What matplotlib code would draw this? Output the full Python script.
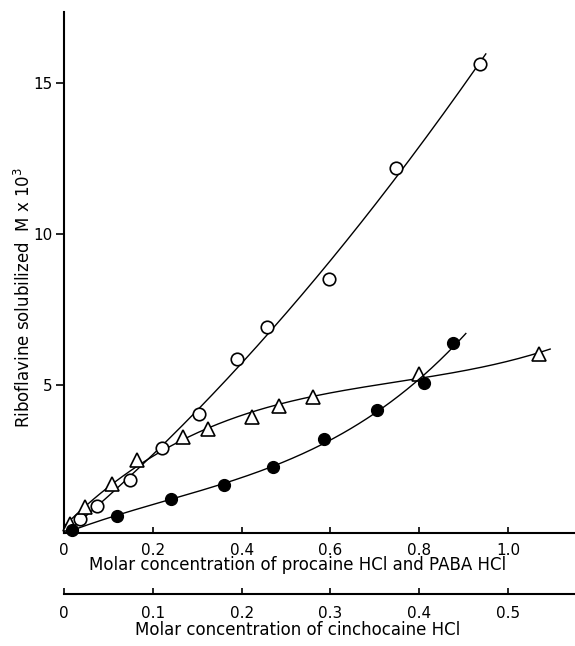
import numpy as np
import matplotlib
matplotlib.use("Agg")
import matplotlib.pyplot as plt

plt.rcParams['font.family'] = ['DejaVu Sans']

# Data
# Open circles (procaine HCl) - x in molar conc. of procaine/PABA axis
circ_x = [0.036, 0.074, 0.149, 0.221, 0.304, 0.390, 0.457, 0.596, 0.748, 0.937]
circ_y = [0.57, 1.00, 1.87, 2.93, 4.03, 5.87, 6.93, 8.50, 12.17, 15.63]
# Open triangles (PABA HCl)
tri_x = [0.014, 0.047, 0.108, 0.164, 0.268, 0.324, 0.423, 0.484, 0.561, 0.800, 1.070]
tri_y = [0.40, 0.97, 1.73, 2.53, 3.27, 3.53, 3.93, 4.30, 4.60, 5.37, 6.03]
# Filled circles (cinchocaine HCl) - x in molar conc. of cinchocaine axis
cinch_x = [0.009, 0.060, 0.120, 0.180, 0.235, 0.293, 0.353, 0.405, 0.438]
cinch_y = [0.20, 0.67, 1.23, 1.70, 2.27, 3.20, 4.17, 5.07, 6.40]

x1_ticks = [0, 0.2, 0.4, 0.6, 0.8, 1.0]
x1_labels = ["0", "0.2", "0.4", "0.6", "0.8", "1.0"]
x2_ticks = [0, 0.1, 0.2, 0.3, 0.4, 0.5]
x2_labels = ["0", "0.1", "0.2", "0.3", "0.4", "0.5"]
y_ticks = [5, 10, 15]
y_labels = ["5", "10", "15"]

W, H = 575, 646
fig = plt.figure(figsize=(W / 100, H / 100), dpi=100)
left, bottom, top = 64, 533, 12
ax = fig.add_axes([left / W, 1 - bottom / H, (W - left) / W, (bottom - top) / H])
xmax = (W - left) / 444.0
ax.set_xlim(0, xmax)
ax.set_ylim(0.1, 0.1 + (bottom - top) / 30.2)

ax2 = ax.twiny()
ax2.set_xlim(0, xmax / 2)

fs = 11
fl = 12
lw_curve = 1.0

# fitted curves
c1 = np.polyfit(circ_x, circ_y, 2)
xx = np.linspace(0, 0.95, 200)
ax.plot(xx, np.polyval(c1, xx), color='black', lw=lw_curve)
c2 = np.polyfit(tri_x, tri_y, 3)
xx = np.linspace(0, 1.095, 200)
ax.plot(xx, np.polyval(c2, xx), color='black', lw=lw_curve)
c3 = np.polyfit(cinch_x, cinch_y, 3)
xx = np.linspace(0, 0.4525, 200)
ax2.plot(xx, np.polyval(c3, xx), color='black', lw=lw_curve)

ax.plot(circ_x, circ_y, 'o', ms=9, mfc='white', mec='black', mew=1.2, zorder=5, clip_on=False)
ax.plot(tri_x, tri_y, '^', ms=10, mfc='white', mec='black', mew=1.2, zorder=5, clip_on=False)
ax2.plot(cinch_x, cinch_y, 'o', ms=8.5, mfc='black', mec='black', zorder=5, clip_on=False)

for a in (ax, ax2):
    for s in ('top', 'right'):
        a.spines[s].set_visible(False)
ax.spines['left'].set_linewidth(1.5)
ax.spines['bottom'].set_linewidth(1.5)

ax.set_xticks(x1_ticks)
ax.set_xticklabels(x1_labels, fontsize=fs)
ax.tick_params(axis='x', direction='in', length=4, width=1.2, pad=7)
ax.set_yticks(y_ticks)
ax.set_yticklabels(y_labels, fontsize=fs)
ax.tick_params(axis='y', direction='out', length=6, width=1.2, pad=2)

ax2.spines['left'].set_visible(False)
ax2.spines['bottom'].set_visible(True)
ax2.spines['bottom'].set_position(('outward', 61 * 0.72))
ax2.spines['bottom'].set_linewidth(1.5)
ax2.xaxis.set_ticks_position('bottom')
ax2.xaxis.set_label_position('bottom')
ax2.set_xticks(x2_ticks)
ax2.set_xticklabels(x2_labels, fontsize=fs)
ax2.tick_params(axis='x', direction='in', length=4, width=1.2, pad=9)

ax.set_xlabel("Molar concentration of procaine HCl and PABA HCl", fontsize=fl)
ax.xaxis.set_label_coords(0.458, -0.045)
ax2.set_xlabel("Molar concentration of cinchocaine HCl", fontsize=fl)
ax2.xaxis.set_label_coords(0.458, -0.168)
ax.set_ylabel(r"Riboflavine solubilized  M x 10$^3$", fontsize=fl)
ax.yaxis.set_label_coords(-0.058, 0.453)

fig.savefig("out.png", dpi=100)
